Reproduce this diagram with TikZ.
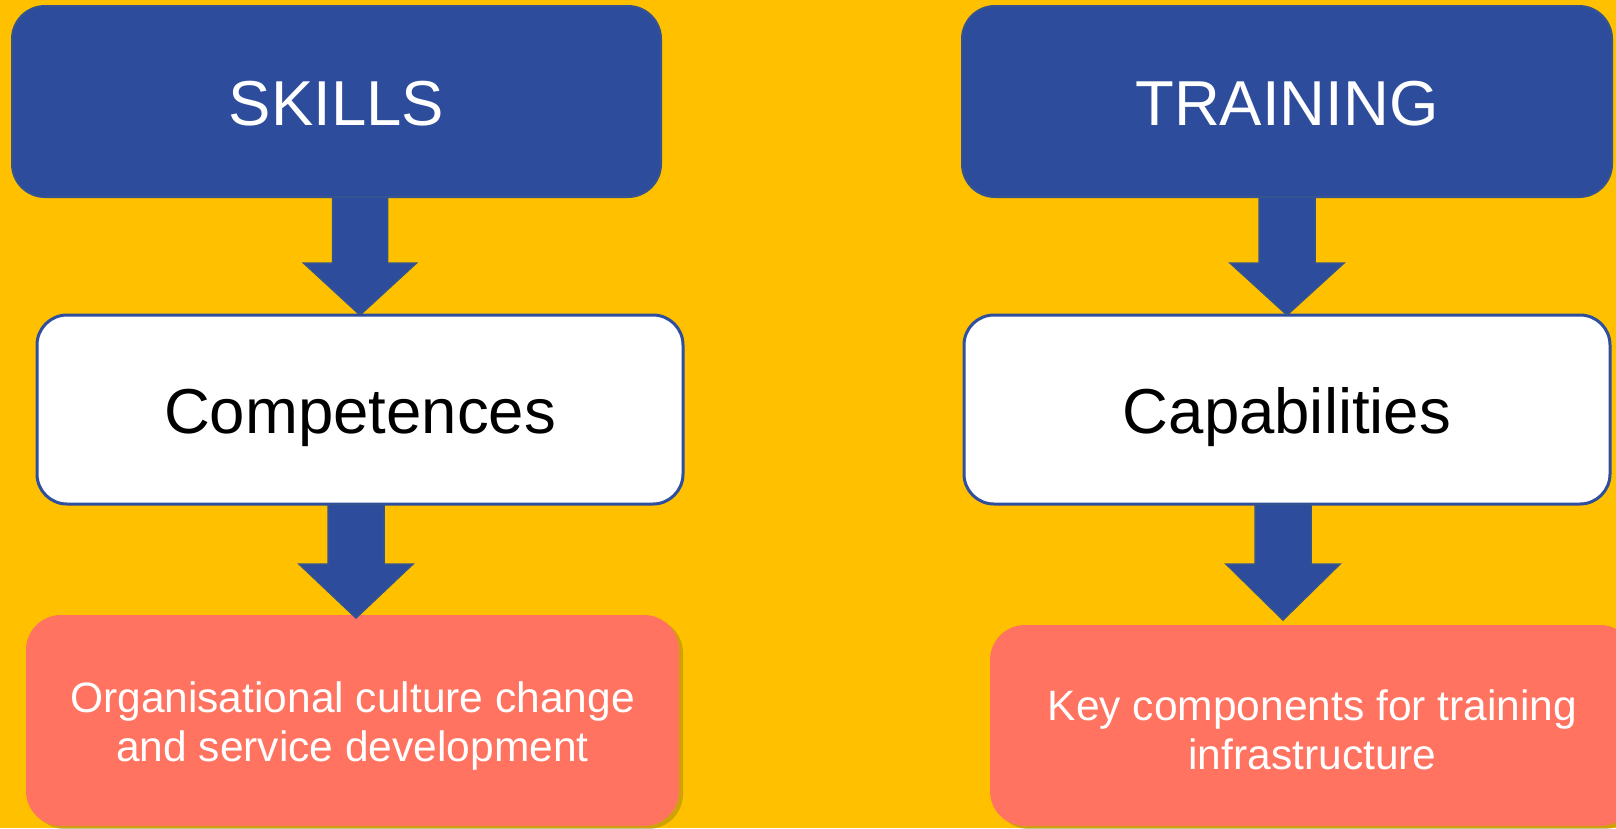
\documentclass[tikz,border=0pt]{standalone}
\usepackage{fontspec}
\setmainfont{Liberation Sans}
\usetikzlibrary{calc,shadows}
\definecolor{bgyellow}{HTML}{FFC000}
\definecolor{boxblue}{HTML}{2D4C9B}
\definecolor{edgeblue}{HTML}{34538F}
\definecolor{whiteedge}{HTML}{2E4E9E}
\definecolor{salmon}{HTML}{FF7360}
\definecolor{shadowcol}{HTML}{9A7E10}
\newcommand\fatarrow[5]{%
  \filldraw[fatarrowsty] let \p1=(#1), \p2=(#2) in
    (\x1-#3,\y1) -- (\x1-#3,\y2+#5) -- (\x1-#4,\y2+#5) -- (\x2,\y2) --
    (\x1+#4,\y2+#5) -- (\x1+#3,\y2+#5) -- (\x1+#3,\y1) -- cycle;}
\tikzset{
  headbox/.style={rectangle, rounded corners=33pt, fill=boxblue, draw=edgeblue, line width=2pt,
    outer sep=0pt, inner sep=0pt, text=white, font=\fontsize{63.5}{76}\selectfont,
    text height=47pt, text depth=0pt},
  midbox/.style={rectangle, rounded corners=30pt, fill=white, draw=whiteedge, line width=3pt,
    outer sep=0pt, inner sep=0pt, text=black, font=\fontsize{63.5}{76}\selectfont,
    text height=47pt, text depth=0pt},
  lowbox/.style={rectangle, rounded corners=35pt, fill=salmon, draw=none,
    outer sep=0pt, inner sep=0pt, text=white, align=center,
    font=\fontsize{42.5}{49}\selectfont, text depth=0pt,
    drop shadow={shadow xshift=4pt, shadow yshift=-3pt, fill=shadowcol, opacity=0.45}},
  fatarrowsty/.style={fill=boxblue, draw=edgeblue, line width=1.5pt, line join=miter}
}
\begin{document}
\begin{tikzpicture}[x=1pt,y=-1pt]
\fill[bgyellow] (0,0) rectangle (1616,828);
\useasboundingbox (0,0) rectangle (1616,828);
% top boxes
\node[headbox, minimum width=649pt, minimum height=191pt] (skills) at (336.5,101.5) {SKILLS};
\node[headbox, minimum width=650pt, minimum height=191pt] (training) at (1287,101.5) {TRAINING};
% middle boxes
\node[midbox, minimum width=646pt, minimum height=189pt] (comp) at (360,409.5) {Competences};
\node[midbox, minimum width=646pt, minimum height=189pt] (capab) at (1287,409.5) {Capabilities};
% bottom boxes
\node[lowbox, minimum width=653pt, minimum height=211pt, text height=81pt] (org) at (352.5,720.5)
  {Organisational culture change\\and service development};
\node[lowbox, minimum width=645pt, minimum height=201pt, text height=88pt] (key) at (1312.5,725.5)
  {Key components for training\\infrastructure};
% arrow axes
\coordinate (ax1) at (360,0);
\coordinate (ax2) at (356,0);
\coordinate (ax3) at (1287,0);
\coordinate (ax4) at (1283,0);
% arrows
\fatarrow{skills.south -| ax1}{comp.north -| ax1}{27.5pt}{56.5pt}{52pt}
\fatarrow{comp.south -| ax2}{$(org.north -| ax2)+(0,3)$}{28pt}{57pt}{54pt}
\fatarrow{training.south -| ax3}{capab.north -| ax3}{28pt}{57pt}{52pt}
\fatarrow{capab.south -| ax4}{$(key.north -| ax4)+(0,-5)$}{28pt}{57pt}{56pt}
\end{tikzpicture}
\end{document}
